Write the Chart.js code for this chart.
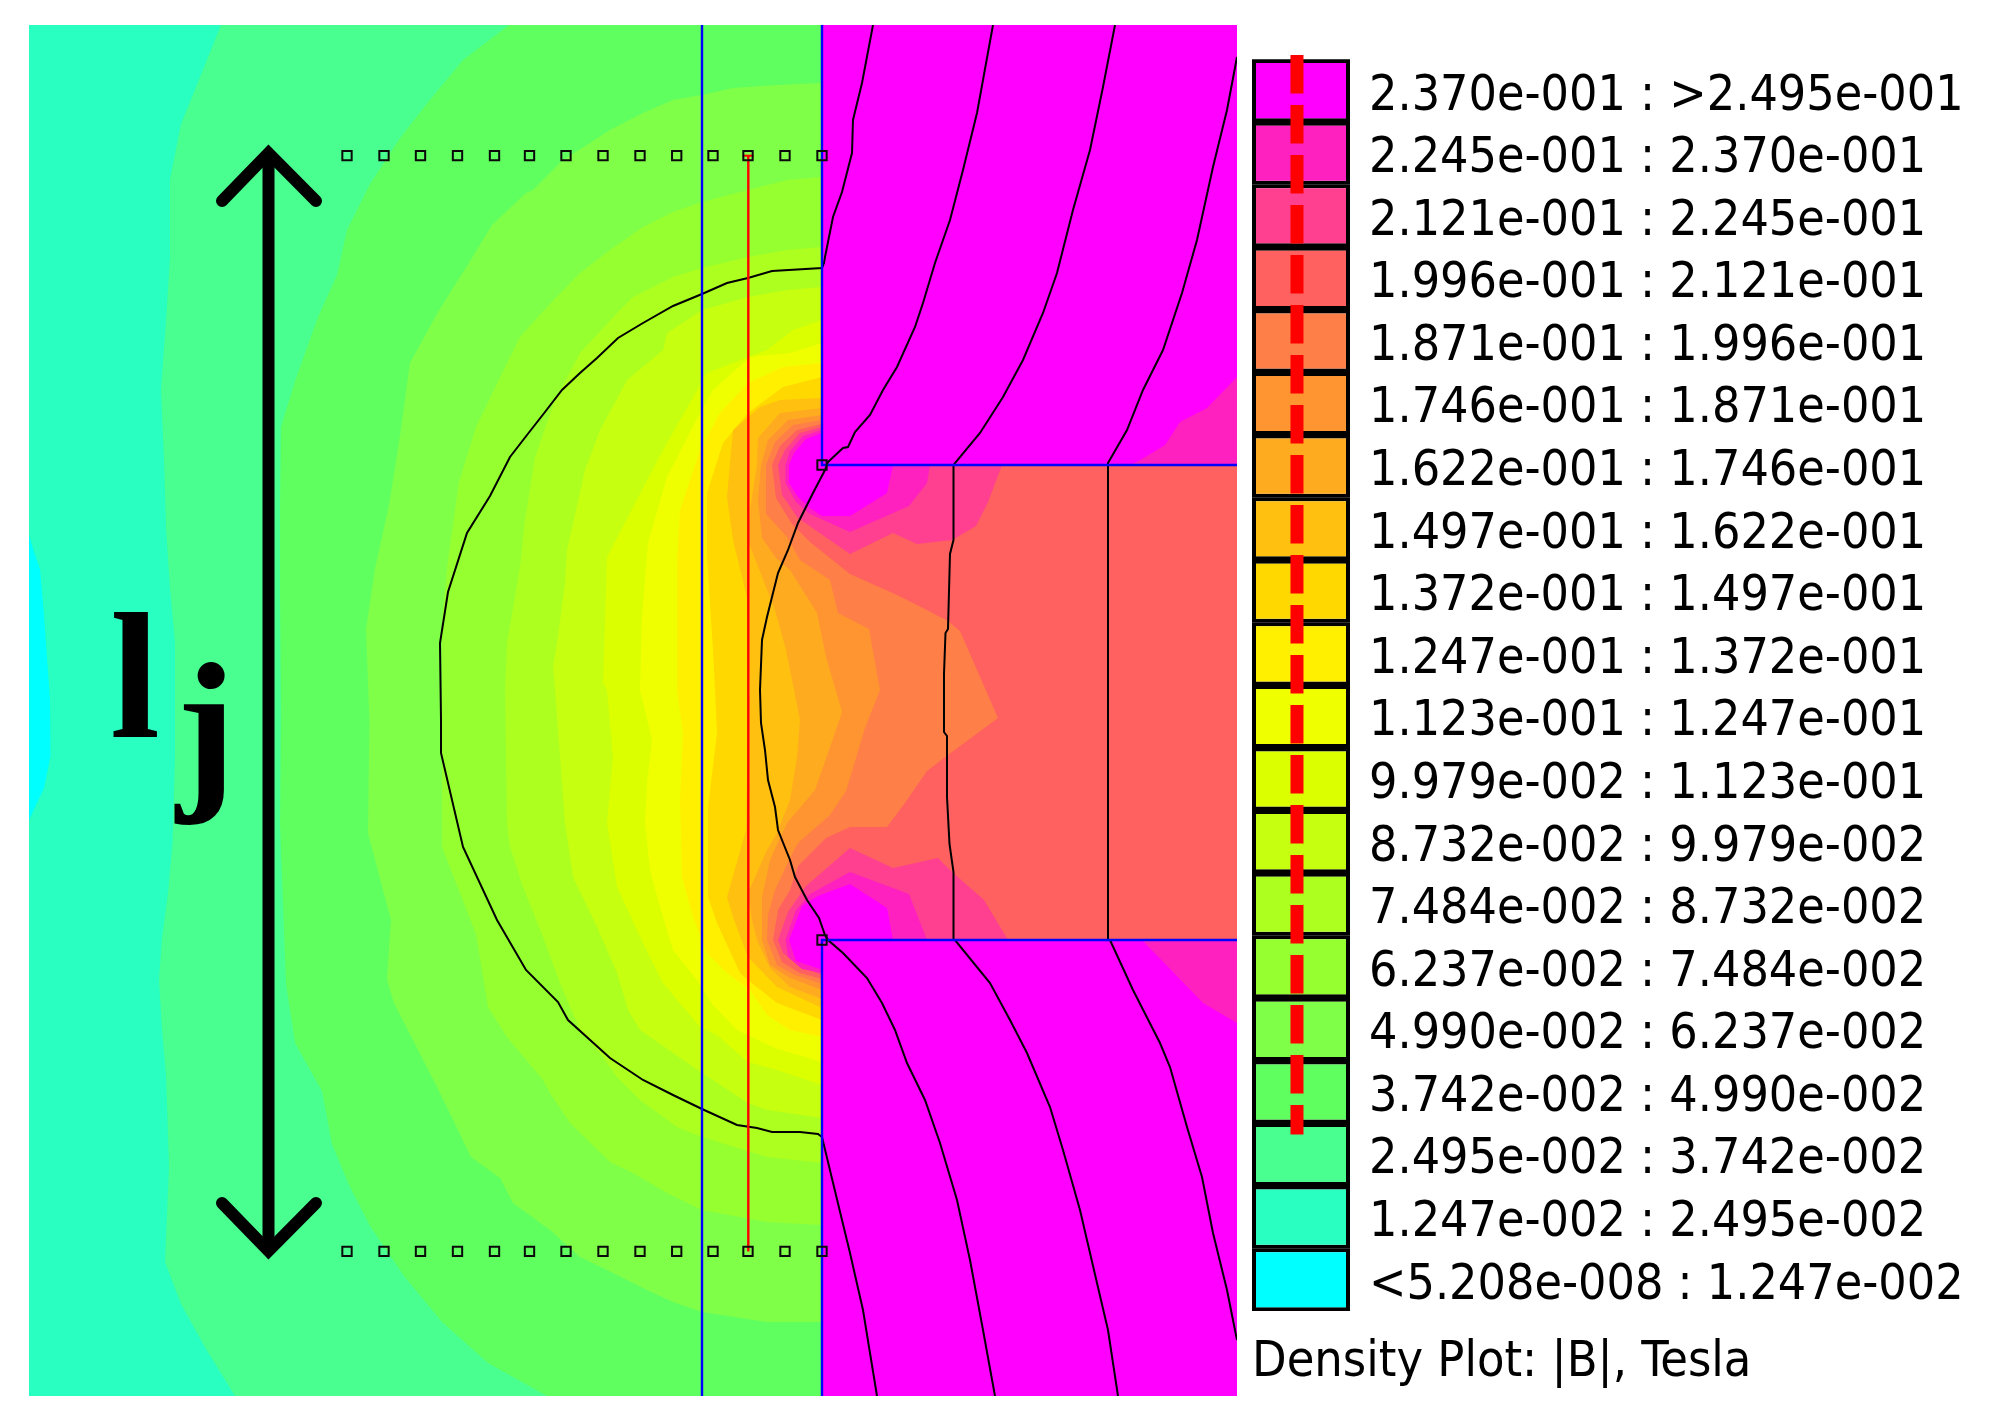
<!DOCTYPE html>
<html><head><meta charset="utf-8">
<script src="https://cdn.jsdelivr.net/npm/chart.js@4/dist/chart.umd.js"></script>
<style>
html,body{margin:0;padding:0;background:#fff;width:1996px;height:1426px;overflow:hidden}
canvas{position:absolute;display:block}
#plot{left:29px;top:25px}
#legend{left:1250px;top:40px}
</style></head><body>
<canvas id="plot" width="1208" height="1371"></canvas>
<canvas id="legend" width="746" height="1386"></canvas>
<script>
// ---------- legend data ----------
const rangeLabels = ["2.370e-001 : >2.495e-001","2.245e-001 : 2.370e-001","2.121e-001 : 2.245e-001","1.996e-001 : 2.121e-001","1.871e-001 : 1.996e-001","1.746e-001 : 1.871e-001","1.622e-001 : 1.746e-001","1.497e-001 : 1.622e-001","1.372e-001 : 1.497e-001","1.247e-001 : 1.372e-001","1.123e-001 : 1.247e-001","9.979e-002 : 1.123e-001","8.732e-002 : 9.979e-002","7.484e-002 : 8.732e-002","6.237e-002 : 7.484e-002","4.990e-002 : 6.237e-002","3.742e-002 : 4.990e-002","2.495e-002 : 3.742e-002","1.247e-002 : 2.495e-002","<5.208e-008 : 1.247e-002"];
const bandColors = ["#FF00FF","#FF20C0","#FF4090","#FF6060","#FF7F48","#FF9530","#FFAB20","#FFC010","#FFD800","#FFF000","#F0FF00","#DCFF00","#C6FF10","#ADFF20","#96FF30","#80FF48","#60FF60","#48FF90","#28FFC0","#00FFFF"];
const legendTitle = "Density Plot: |B|, Tesla";
const legendBars = [1,1,1,1,1,1,1,1,1,1,1,1,1,1,1,1,1,1,1,1];
const legendDash = [[0.459,-0.07],[0.459,17.18]];
// ---------- field domain ----------
const domainX = [29,1237], domainY = [25,1396];
// ---------- contour outlines (level curves of |B|) ----------
const contourCyan = [[29,535],[34,552],[40,569],[44,615],[50,700],[50.5,756],[44,788],[29,820]];
const contourB = [[221,25],[196,87],[181,124],[170,179],[170,257],[166,321],[161,390],[162,415],[164,459],[166,528],[170,588],[175,643],[175,756],[172.5,842],[168,893],[162,938],[159,979],[162,1030],[166,1075],[169,1167],[165,1262],[181,1304],[206,1349],[235,1396]];
const contourC = [[509,25],[463,60],[429,101],[400,138],[370,184],[347,230],[337,275],[318,317],[295,381],[281,427],[280,505],[280,597],[281,710],[280,824],[286,984],[295,1043],[322,1091],[332,1144],[349,1185],[370,1226],[404,1276],[442,1322],[488,1363],[547,1396]];
const contourD = [[822,83],[777,85],[733,88],[702,95],[673,100],[643,113],[610,130],[590,143],[563,160],[533,190],[526,193],[492,225],[467,266],[438,312],[410,363],[400,436],[389,505],[375,569],[366,629],[369.5,720],[368,833],[391,920],[387,979],[393.5,1002],[438,1089],[471,1157],[500,1178],[513,1203],[550,1230],[580,1257],[607,1270],[647,1290],[673,1302],[702,1312],[767,1322],[822,1322]];
const contourE = [[822,177],[787,180],[748,190],[702,202],[673,212],[643,227],[610,250],[580,273],[547,307],[520,337],[505,367],[476,427],[459,482],[448,560],[442,620],[442,710],[442,847],[476,934],[488,1007],[507,1037],[543,1080],[550,1093],[570,1123],[610,1162],[633,1173],[667,1193],[702,1210],[767,1222],[822,1225]];
const contourF = [[822,247],[787,250],[748,257],[702,268],[673,277],[633,297],[617,313],[580,353],[555,400],[535,457],[525,520],[520,567],[507,643],[505,690],[507,823],[510,847],[523,887],[543,937],[560,983],[580,1030],[600,1053],[617,1077],[640,1100],[677,1127],[702,1137],[767,1157],[822,1163]];
const contourG = [[822,287],[787,290],[748,297],[702,310],[667,333],[663,350],[627,380],[600,430],[585,470],[567,550],[565,583],[557,643],[553,667],[555,690],[565,823],[573,877],[597,927],[617,973],[628,1010],[640,1030],[702,1073],[748,1103],[767,1110],[822,1118]];
const contourH = [[822,320],[793,330],[767,350],[707,373],[663,450],[607,557],[603,683],[607,690],[613,757],[607,823],[617,887],[643,943],[663,983],[700,1027],[717,1035],[748,1062],[777,1070],[822,1085]];
const contourI = [[822,343],[790,353],[750,357],[713,390],[700,413],[667,477],[648,543],[642,617],[640,690],[652,740],[647,783],[645,823],[650,870],[660,907],[673,950],[697,980],[713,1005],[737,1030],[775,1048],[822,1062]];
const contourJ = [[822,363],[783,367],[748,383],[720,413],[700,450],[680,510],[677,563],[677,690],[683,733],[680,800],[682,877],[693,917],[707,953],[727,973],[750,990],[767,1015],[790,1030],[822,1037]];
const contourK = [[822,377],[783,387],[748,413],[723,443],[707,493],[707,557],[713,650],[715,690],[717,733],[708,807],[708,897],[717,923],[740,973],[748,980],[777,1003],[822,1020]];
const contourL = [[822,398],[780,400],[760,407],[733,430],[727,497],[733,540],[747,597],[750,690],[748,720],[746,830],[727,897],[733,917],[748,957],[777,987],[822,1008]];
const contourM = [[822,408],[780,413],[758,438],[757,465],[750,510],[748,541],[775,610],[786,650],[800,720],[797,757],[790,800],[777,833],[767,850],[748,893],[752,920],[757,940],[770,968],[790,987],[822,999]];
const contourN = [[822,415],[788,420],[768,440],[761,465],[758,500],[762,538],[776,558],[790,570],[817,613],[826,657],[842,712],[830,747],[815,790],[787,823],[770,860],[762,897],[762,940],[770,965],[790,978],[822,990]];
const contourO = [[822,420],[793,425],[775,442],[766,465],[766,514],[787,537],[800,560],[830,580],[838,613],[869,629],[880,690],[865,728],[846,791],[830,815],[798,843],[790,858],[775,890],[768,915],[767,940],[777,965],[795,975],[822,984]];
const contourP = [[822,424],[797,430],[780,446],[772,465],[776,498],[792,524],[810,542],[850,574],[897,595],[917,605],[948,621],[960,631],[998,718],[948,755],[927,771],[905,803],[887,827],[850,827],[826,838],[798,866],[790,890],[778,910],[773,940],[782,962],[800,973],[822,979]];
const blobQTop = [[822,427],[800,433],[785,450],[778,465],[782,495],[798,518],[850,554],[893,533],[917,544],[952,540],[976,526],[988,502],[1002,465],[1002,427]];
const blobRTop = [[822,430],[803,436],[790,451],[785.5,465],[785.5,483],[796,502],[810,514],[850,532],[909,506],[927,483],[930,465],[930,430]];
const blobSTop = [[822,433],[806,439],[794,453],[789,465],[789,483],[798,497],[810,508],[822,516],[850,516],[887,493],[893,465],[893,433]];
const blobQBottom = [[850,848],[893,868],[938,858],[952,872],[984,900],[1008,940],[1008,975],[822,975],[798,965],[783,953],[778,940],[788,912],[806,886]];
const blobRBottom = [[850,872],[909,894],[927,940],[927,973],[822,973],[802,969],[788,957],[785.5,940],[796,910],[810,894]];
const blobSBottom = [[850,884],[887,908],[893,940],[893,969],[820,969],[796,961],[789,940],[802,906],[818,896]];
const ironTop = [[822,25],[1237,25],[1237,465],[822,465]];
const ironBottom = [[822,940],[1237,940],[1237,1396],[822,1396]];
const ironBandTop = [[1237,377],[1207,408],[1180,422],[1165,445],[1137,462],[1130,465],[1237,465]];
const ironBandBottom = [[1142,940],[1203,1003],[1237,1023],[1237,940]];
// ---------- flux lines ----------
const fluxOuterArc = [[873,25],[862,83],[853,120],[852,153],[842,192],[833,217],[825,257],[824,263],[822,268],[772,271],[748,278],[727,283],[702,294],[673,306],[643,323],[618,338],[597,358],[580,373],[562,390],[545,412],[527,435],[510,457],[490,496],[467,533],[448,592],[440,643],[441,720],[441,753],[463,847],[497,920],[526,970],[558,1002],[568,1020],[610,1058],[643,1080],[673,1095],[702,1109],[737,1125],[757,1128],[772,1132],[800,1132],[818,1134],[822,1137],[842,1220],[850,1253],[863,1310],[870,1353],[877,1396]];
const fluxInnerArc = [[993,25],[977,113],[963,170],[950,220],[935,263],[923,303],[915,327],[897,367],[883,390],[870,415],[855,432],[848,447],[843,448],[828,462],[825,470],[813,493],[798,523],[788,550],[778,573],[767,617],[762,640],[760,690],[761,723],[765,750],[768,780],[775,807],[778,830],[790,860],[795,877],[807,900],[819,918],[825,935],[828,940],[843,953],[867,978],[882,1003],[895,1030],[907,1063],[925,1100],[940,1143],[957,1200],[970,1260],[983,1330],[995,1396]];
const fluxThird = [[1115,25],[1103,87],[1090,150],[1073,210],[1057,273],[1043,313],[1023,360],[1003,397],[980,433],[955,463],[953.5,465],[953.5,540],[950,554],[948,629],[945.5,633],[944,674],[944,732],[947,736],[947,797],[949.5,844],[953.5,872],[953.5,940],[955,940],[990,983],[1010,1020],[1027,1053],[1050,1107],[1063,1150],[1080,1210],[1097,1283],[1108,1330],[1118,1396]];
const fluxFourth = [[1237,57],[1227,110],[1213,167],[1197,240],[1182,293],[1163,350],[1143,390],[1127,430],[1108,463],[1108,940],[1110,940],[1133,990],[1160,1043],[1170,1067],[1187,1127],[1202,1177],[1213,1233],[1227,1290],[1237,1340]];
// ---------- geometry lines ----------
const blueLeft = [[702,25],[702,1396]];
const blueIronTop = [[822,25],[822,465],[1237,465]];
const blueIronBottom = [[1237,940],[822,940],[822,1396]];
const redPath = [[748.3,155.7],[748.3,1251.5]];
const redTick = [[742.5,155.7],[753.5,155.7]];
const sampleX = [347,384,420.5,457.5,494.5,529.5,566,603,640,676.7,713,748,785,822];
const sampleTopY = 155.7, sampleBottomY = 1251.3;
const cornerPoints = [[822,465],[822,940]];
const arrowShaft = [[268.5,153],[268.5,1251]];
const arrowHeadTop = [[222,201],[268.5,153],[316,201]];
const arrowHeadBottom = [[222,1203],[268.5,1251],[316,1203]];
const dimLabel = [["l",110,737],["j",176,786.5]];

const pts = a => a.map(p => ({x:p[0],y:p[1]}));
const right = domainX[1];
const closeRight = a => a.concat([[right,a[a.length-1][1]],[right,a[0][1]]]);
const cIdx = {S:0,R:1,Q:2,P:3,O:4,N:5,M:6,L:7,K:8,J:9,I:10,H:11,G:12,F:13,E:14,D:15,C:16,B:17,A:18,Z:19};

const fills = [];
const addFill = (a,key) => fills.push({data:pts(a),backgroundColor:bandColors[cIdx[key]],fill:'shape',showLine:true,borderWidth:0,borderColor:'transparent',pointRadius:0,tension:0});
addFill([[domainX[0],domainY[0]],[domainX[1],domainY[0]],[domainX[1],domainY[1]],[domainX[0],domainY[1]]],'A');
addFill(contourCyan,'Z');
[[contourB,'B'],[contourC,'C'],[contourD,'D'],[contourE,'E'],[contourF,'F'],[contourG,'G'],[contourH,'H'],[contourI,'I'],[contourJ,'J'],[contourK,'K'],[contourL,'L'],[contourM,'M'],[contourN,'N'],[contourO,'O'],[contourP,'P']].forEach(([c,k]) => addFill(closeRight(c),k));
addFill(blobQTop,'Q');addFill(blobQBottom,'Q');addFill(blobRTop,'R');addFill(blobRBottom,'R');addFill(blobSTop,'S');addFill(blobSBottom,'S');
addFill(ironTop,'S');addFill(ironBottom,'S');addFill(ironBandTop,'R');addFill(ironBandBottom,'R');

const lineDs = (a,color,w,extra) => Object.assign({data:pts(a),showLine:true,borderColor:color,borderWidth:w,pointRadius:0,fill:false,tension:0},extra||{});
const overlays = [
  lineDs(fluxOuterArc,'#000',2),lineDs(fluxInnerArc,'#000',2),lineDs(fluxThird,'#000',2),lineDs(fluxFourth,'#000',2),
  lineDs(blueLeft,'#0000FF',2.4),lineDs(blueIronTop,'#0000FF',2.4),lineDs(blueIronBottom,'#0000FF',2.4),
  lineDs(redPath,'#FF0000',2.4),lineDs(redTick,'#FF0000',2),
  lineDs(arrowShaft,'#000',12),
  lineDs(arrowHeadTop,'#000',12,{borderCapStyle:'round',borderJoinStyle:'miter'}),
  lineDs(arrowHeadBottom,'#000',12,{borderCapStyle:'round',borderJoinStyle:'miter'})
];
const sq = a => ({data:a,showLine:false,pointStyle:'rect',pointRadius:6.6,pointBorderWidth:2,pointBorderColor:'#0a0a0a',pointBackgroundColor:'rgba(0,0,0,0)',clip:false});
overlays.push(sq(sampleX.map(x=>({x,y:sampleTopY}))),sq(sampleX.map(x=>({x,y:sampleBottomY}))),sq(pts(cornerPoints)));

const all = fills.concat(overlays);
all.forEach((d,i)=>{d.order=-i;});

const labelPlugin = {id:'dimLabel',afterDatasetsDraw(c){
  const g=c.ctx,sx=c.scales.x,sy=c.scales.y;
  g.save();g.fillStyle='#000';g.font='bold 180px "Liberation Serif"';g.textBaseline='alphabetic';g.textAlign='left';
  dimLabel.forEach(([t,x,y])=>g.fillText(t,sx.getPixelForValue(x),sy.getPixelForValue(y)));
  g.restore();
}};
new Chart(document.getElementById('plot'),{type:'scatter',data:{datasets:all},plugins:[labelPlugin],options:{
  responsive:false,animation:false,devicePixelRatio:1,layout:{padding:0,autoPadding:false},
  plugins:{legend:{display:false},tooltip:{enabled:false},title:{display:false}},
  scales:{x:{type:'linear',display:false,min:domainX[0],max:domainX[1]},y:{type:'linear',display:false,reverse:true,min:domainY[0],max:domainY[1]}}
}});

const legendFont = '"DejaVu Sans Condensed","DejaVu Sans"';
new Chart(document.getElementById('legend'),{data:{labels:rangeLabels,datasets:[
  {type:'line',order:-1,data:pts(legendDash),xAxisID:'x',yAxisID:'yRow',borderColor:'#FF0000',borderWidth:13,borderDash:[38.5,11.5],borderCapStyle:'butt',pointRadius:0,fill:false,clip:false,tension:0},
  {type:'bar',order:1,data:legendBars,xAxisID:'x',yAxisID:'y',backgroundColor:bandColors,borderColor:'#000',borderWidth:4,borderSkipped:false,grouped:false,barThickness:63.1,inflateAmount:0}
]},options:{
  indexAxis:'y',responsive:false,animation:false,devicePixelRatio:1,
  layout:{padding:{top:19.3,left:2,right:0,bottom:0},autoPadding:false},
  plugins:{legend:{display:false},tooltip:{enabled:false},
    title:{display:true,position:'bottom',align:'start',text:legendTitle,color:'#000',font:{family:legendFont,size:50,weight:'normal'},padding:{top:22,bottom:33}}},
  scales:{
    x:{type:'linear',display:false,min:0,max:1},
    y:{type:'category',position:'right',grid:{display:false,drawTicks:false},border:{display:false},
       afterFit(s){s.width=646;s.paddingTop=0;s.paddingBottom=0;},
       ticks:{autoSkip:false,color:'#000',padding:19,crossAlign:'near',callback:(v,i)=>["",rangeLabels[i]],font:{family:legendFont,size:49.7,lineHeight:'12px'}}},
    yRow:{type:'linear',axis:'y',display:false,min:0,max:20,reverse:true}
  }
}});
</script></body></html>
